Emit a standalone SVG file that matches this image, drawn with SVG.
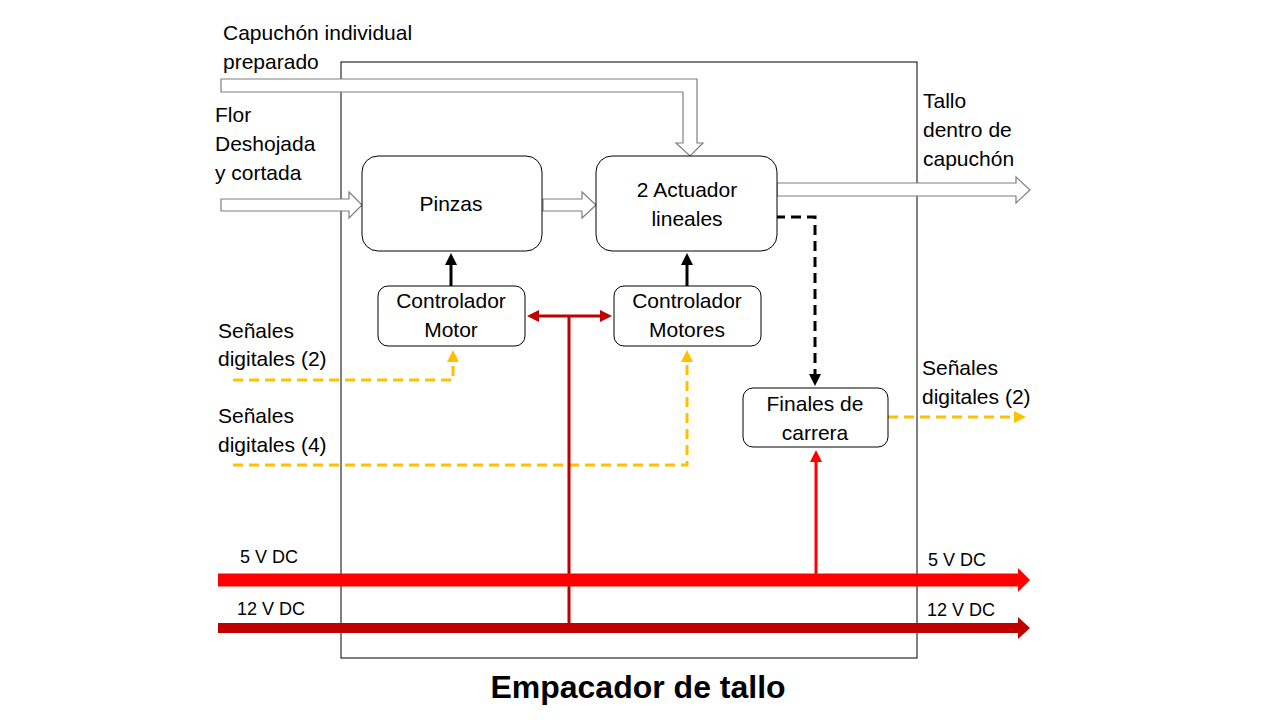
<svg xmlns="http://www.w3.org/2000/svg" width="1280" height="720" viewBox="0 0 1280 720">
<style>
text{font-family:"Liberation Sans",Arial,sans-serif;font-size:21px;fill:#000}
.c{text-anchor:middle}
.v{font-size:18px}
.box{fill:#fff;stroke:#000;stroke-width:1}
.hollow{fill:#fff;stroke:#7f7f7f;stroke-width:1.2}
.yd{fill:none;stroke:#FFC000;stroke-width:3;stroke-dasharray:10 6}
.bd{fill:none;stroke:#000;stroke-width:3;stroke-dasharray:10 6}
</style>
<defs>
<marker id="ay" markerWidth="4" markerHeight="4" refX="2" refY="2" orient="auto" markerUnits="strokeWidth"><path d="M0,0 L4,2 L0,4 z" fill="#FFC000"/></marker>
<marker id="ab" markerWidth="4" markerHeight="4" refX="2" refY="2" orient="auto" markerUnits="strokeWidth"><path d="M0,0 L4,2 L0,4 z" fill="#000"/></marker>
<marker id="adr" markerWidth="4" markerHeight="4" refX="2" refY="2" orient="auto-start-reverse" markerUnits="strokeWidth"><path d="M0,0 L4,2 L0,4 z" fill="#C00000"/></marker>
<marker id="ar" markerWidth="4" markerHeight="4" refX="2" refY="2" orient="auto" markerUnits="strokeWidth"><path d="M0,0 L4,2 L0,4 z" fill="#FF0000"/></marker>
</defs>
<rect width="1280" height="720" fill="#fff"/>
<rect x="341" y="62" width="576" height="596" fill="none" stroke="#000" stroke-width="1"/>

<g id="connectors">
<polygon class="hollow" points="221,79 697,79 697,143 703,143 690,156 676,143 683,143 683,92 221,92"/>
<polygon class="hollow" points="221,199 349,199 349,192 362,205 349,218 349,211 221,211"/>
<polygon class="hollow" points="543,199 582,199 582,192 596,205 582,218 582,211 543,211"/>
<polygon class="hollow" points="777,183 1016,183 1016,177 1030,190 1016,203 1016,196 777,196"/>
<line x1="451" y1="286" x2="451" y2="259" stroke="#000" stroke-width="3" marker-end="url(#ab)"/>
<line x1="687" y1="286" x2="687" y2="259" stroke="#000" stroke-width="3" marker-end="url(#ab)"/>
<polyline class="bd" points="775,217 815,217 815,380" marker-end="url(#ab)"/>
<polyline class="yd" points="233,380 453,380 453,356" marker-end="url(#ay)"/>
<polyline class="yd" points="233,465 687,465 687,356" marker-end="url(#ay)"/>
<line class="yd" x1="888" y1="417" x2="1020" y2="417" marker-end="url(#ay)"/>
<line x1="533" y1="316" x2="606" y2="316" stroke="#C00000" stroke-width="3" marker-start="url(#adr)" marker-end="url(#adr)"/>
<line x1="569" y1="316" x2="569" y2="628" stroke="#C00000" stroke-width="3"/>
<line x1="816" y1="580" x2="816" y2="456" stroke="#FF0000" stroke-width="3" marker-end="url(#ar)"/>
<line x1="218" y1="580" x2="1020" y2="580" stroke="#FF0000" stroke-width="13"/>
<polygon points="1018,568 1030,580 1018,592" fill="#FF0000"/>
<line x1="218" y1="628" x2="1020" y2="628" stroke="#C00000" stroke-width="10"/>
<polygon points="1018,617 1030,628 1018,639" fill="#C00000"/>
</g>

<g id="pinzas"><rect class="box" x="362" y="156" width="180" height="95" rx="16"/><text class="c" x="451" y="211">Pinzas</text></g>
<g id="actuador"><rect class="box" x="596" y="156" width="181" height="95" rx="16"/><text class="c" x="687" y="197">2 Actuador</text><text class="c" x="687" y="226">lineales</text></g>
<g id="ctrl-motor"><rect class="box" x="378" y="286" width="147" height="60" rx="10"/><text class="c" x="451" y="308">Controlador</text><text class="c" x="451" y="337">Motor</text></g>
<g id="ctrl-motores"><rect class="box" x="614" y="286" width="147" height="60" rx="10"/><text class="c" x="687" y="308">Controlador</text><text class="c" x="687" y="337">Motores</text></g>
<g id="finales"><rect class="box" x="743" y="388" width="145" height="59" rx="10"/><text class="c" x="815" y="411">Finales de</text><text class="c" x="815" y="440">carrera</text></g>

<g id="labels">
<text x="223" y="40">Capuchón individual</text>
<text x="223" y="69">preparado</text>
<text x="215" y="122">Flor</text>
<text x="215" y="151">Deshojada</text>
<text x="215" y="180">y cortada</text>
<text x="923" y="108">Tallo</text>
<text x="923" y="137">dentro de</text>
<text x="923" y="166">capuchón</text>
<text x="218" y="338">Señales</text>
<text x="218" y="366">digitales (2)</text>
<text x="218" y="423">Señales</text>
<text x="218" y="452">digitales (4)</text>
<text x="922" y="375">Señales</text>
<text x="922" y="404">digitales (2)</text>
<text class="v" x="240" y="563">5 V DC</text>
<text class="v" x="237" y="615">12 V DC</text>
<text class="v" x="928" y="566">5 V DC</text>
<text class="v" x="927" y="616">12 V DC</text>
<text class="c" x="638" y="698" style="font-size:32px;font-weight:bold">Empacador de tallo</text>
</g>
</svg>
